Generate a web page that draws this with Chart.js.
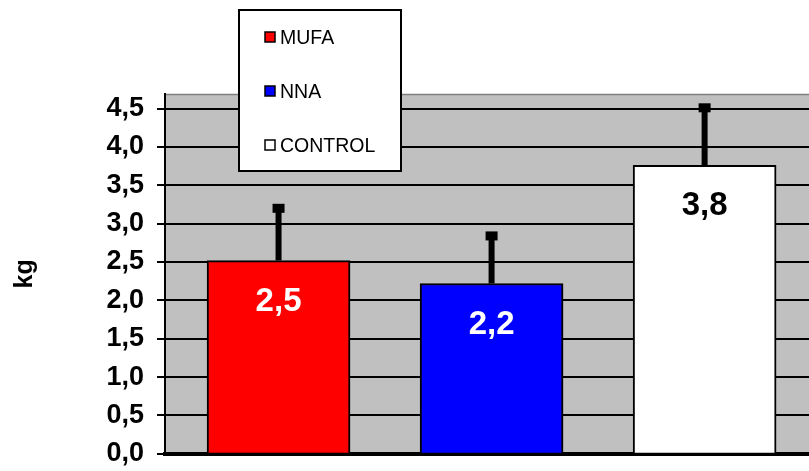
<!DOCTYPE html>
<html>
<head>
<meta charset="utf-8">
<script src="https://cdn.jsdelivr.net/npm/chart.js@4"></script>
<style>
  html, body { margin: 0; padding: 0; background: #ffffff; overflow: hidden; }
  #clip { width: 809px; height: 471px; overflow: hidden; position: relative; }
  #wrap { width: 809px; height: 483px; position: relative; }
</style>
</head>
<body>
<div id="clip"><div id="wrap"><canvas id="c"></canvas></div></div>
<script>
const categories = ['MUFA', 'NNA', 'CONTROL'];
const values = [2.52, 2.22, 3.76];
const errorsUp = [0.68, 0.62, 0.75];
const barColors = ['#ff0000', '#0000ff', '#ffffff'];
const valueLabelColors = ['#ffffff', '#ffffff', '#000000'];
const yTickValues = [0, 0.5, 1.0, 1.5, 2.0, 2.5, 3.0, 3.5, 4.0, 4.5];
const yAxisTitle = 'kg';

const FONT = "'Liberation Sans', Arial, sans-serif";
const fmt = v => v.toFixed(1).replace('.', ',');

const plotBg = {
  id: 'plotBg',
  beforeDraw(chart) {
    const { ctx, chartArea: a } = chart;
    ctx.save();
    ctx.fillStyle = '#c0c0c0';
    ctx.fillRect(a.left, a.top, a.right - a.left, a.bottom - a.top);
    ctx.strokeStyle = '#808080';
    ctx.lineWidth = 1.5;
    ctx.beginPath();
    ctx.moveTo(a.left, a.top + 0.5);
    ctx.lineTo(a.right, a.top + 0.5);
    ctx.stroke();
    ctx.restore();
  }
};

const extras = {
  id: 'extras',
  afterDatasetsDraw(chart) {
    const { ctx } = chart;
    const ys = chart.scales.y;
    ctx.save();
    chart.data.datasets.forEach((ds, i) => {
      const bar = chart.getDatasetMeta(i).data[0];
      if (!bar) return;
      const yEnd = ys.getPixelForValue(values[i] + errorsUp[i]);
      ctx.strokeStyle = '#000';
      ctx.lineWidth = 6;
      ctx.beginPath();
      ctx.moveTo(bar.x, bar.y);
      ctx.lineTo(bar.x, yEnd);
      ctx.stroke();
      ctx.fillStyle = '#000';
      ctx.fillRect(bar.x - 6, yEnd - 4.5, 12, 9);
      ctx.fillStyle = valueLabelColors[i];
      ctx.font = 'bold 33px ' + FONT;
      ctx.textAlign = 'center';
      ctx.textBaseline = 'middle';
      ctx.fillText(fmt(values[i]), bar.x, bar.y + 41);
    });
    ctx.restore();
  },
  afterDraw(chart) {
    const { ctx } = chart;
    ctx.save();
    const bx = 239, by = 10, bw = 162, bh = 161;
    ctx.fillStyle = '#fff';
    ctx.fillRect(bx, by, bw, bh);
    ctx.strokeStyle = '#000';
    ctx.lineWidth = 2;
    ctx.strokeRect(bx, by, bw, bh);
    chart.data.datasets.forEach((ds, i) => {
      const cy = 37 + i * 54;
      ctx.fillStyle = ds.backgroundColor;
      ctx.fillRect(265, cy - 5, 10, 10);
      ctx.lineWidth = 1.5;
      ctx.strokeStyle = '#000';
      ctx.strokeRect(265, cy - 5, 10, 10);
      ctx.fillStyle = '#000';
      ctx.font = '19.5px ' + FONT;
      ctx.textAlign = 'left';
      ctx.textBaseline = 'middle';
      ctx.fillText(ds.label, 280, cy + 2);
    });
    ctx.restore();
  }
};

new Chart(document.getElementById('c'), {
  type: 'bar',
  data: {
    datasets: categories.map((c, i) => ({
      label: c,
      data: [{ x: i, y: values[i] }],
      backgroundColor: barColors[i],
      borderColor: '#000',
      borderWidth: 2,
      barThickness: 143,
      grouped: false
    }))
  },
  options: {
    responsive: true,
    maintainAspectRatio: false,
    animation: false,
    layout: { padding: { top: 94, left: 0, right: 0, bottom: 0 } },
    plugins: { legend: { display: false }, tooltip: { enabled: false } },
    scales: {
      x: {
        type: 'linear',
        offset: false,
        min: -0.533,
        max: 2.49,
        ticks: { display: false },
        grid: { display: false },
        border: { display: true, color: '#000', width: 4 },
        afterFit(s) { s.height = 6; }
      },
      y: {
        min: 0,
        max: 4.69,
        afterBuildTicks(s) { s.ticks = yTickValues.map(v => ({ value: v })); },
        ticks: {
          callback: v => fmt(v),
          color: '#000',
          font: { family: FONT, size: 27, weight: 'bold' },
          padding: 13
        },
        grid: { color: '#000', lineWidth: 2, tickLength: 8, drawTicks: true },
        border: { display: true, color: '#000', width: 2 },
        title: {
          display: true,
          text: yAxisTitle,
          color: '#000',
          font: { family: FONT, size: 25, weight: 'bold' },
          padding: { top: 10, bottom: 0 }
        },
        afterFit(s) { s.width = 165; }
      }
    }
  },
  plugins: [plotBg, extras]
});
</script>
</body>
</html>
